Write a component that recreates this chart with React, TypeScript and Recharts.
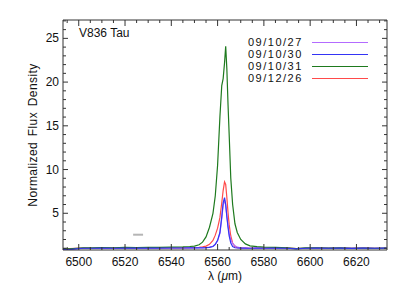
import { Line, LineChart, ReferenceLine, XAxis, YAxis } from 'recharts'

const wavelength = [
  6493, 6496, 6499, 6502, 6506, 6510, 6515, 6520, 6525, 6530,
  6535, 6540, 6545, 6548, 6550, 6552, 6553.5, 6555, 6556.5, 6558,
  6559, 6560, 6561, 6561.8, 6562.4, 6563, 6563.5, 6564, 6564.5, 6565,
  6565.7, 6566.5, 6567.5, 6568.5, 6570, 6572, 6574, 6577, 6580, 6585,
  6590, 6594, 6598, 6603, 6608, 6613, 6618, 6623, 6628, 6633,
]

const flux091027 = [
  0.9, 0.88, 0.95, 1.0, 1.0, 1.02, 1.01, 1.03, 1.0, 1.02,
  1.03, 1.02, 1.03, 1.04, 1.05, 1.06, 1.07, 1.08, 1.12, 1.22,
  1.45, 1.85, 2.7, 4.4, 5.9, 6.5, 5.9, 4.7, 3.6, 2.7,
  2.0, 1.55, 1.28, 1.12, 1.04, 1.02, 1.0, 1.02, 1.0, 1.01,
  1.0, 0.95, 1.0, 1.02, 1.01, 1.01, 0.99, 1.01, 1.0, 1.01,
]

const flux091030 = [
  0.88, 0.85, 0.93, 1.0, 1.0, 1.02, 1.0, 1.03, 1.01, 1.02,
  1.02, 1.03, 1.03, 1.04, 1.04, 1.05, 1.05, 1.07, 1.1, 1.2,
  1.45, 1.9, 2.8, 4.6, 6.2, 6.8, 6.0, 4.6, 3.4, 2.4,
  1.6, 1.2, 1.06, 1.03, 1.02, 1.01, 1.0, 1.02, 1.0, 1.01,
  1.0, 0.94, 1.0, 1.02, 1.0, 1.01, 0.99, 1.01, 1.0, 1.01,
]

const flux091031 = [
  0.95, 0.93, 1.0, 1.04, 1.05, 1.07, 1.06, 1.09, 1.07, 1.1,
  1.11, 1.12, 1.15, 1.2, 1.25, 1.4, 1.7, 2.3, 3.4, 5.0,
  7.0, 10.5, 16.0, 19.6, 20.4, 22.2, 24.1, 21.5, 17.5, 14.0,
  9.0, 6.0, 3.8, 2.8, 2.0, 1.5, 1.28, 1.18, 1.12, 1.1,
  1.05, 0.95, 1.05, 1.06, 1.02, 1.05, 1.0, 1.03, 1.0, 1.02,
]

const flux091226 = [
  0.95, 0.97, 1.0, 1.02, 1.0, 1.03, 1.01, 1.04, 1.02, 1.03,
  1.04, 1.03, 1.05, 1.06, 1.08, 1.1, 1.15, 1.25, 1.45, 1.9,
  2.5, 3.3, 4.5, 6.2, 7.6, 8.6, 8.3, 6.8, 5.1, 3.7,
  2.4, 1.6, 1.2, 1.08, 1.03, 1.02, 1.0, 1.02, 1.01, 1.0,
  1.02, 0.97, 1.0, 1.02, 1.0, 1.01, 0.99, 1.01, 1.0, 1.0,
]

const seriesNames = ['09/10/27', '09/10/30', '09/10/31', '09/12/26']
const seriesKeys = ['d1027', 'd1030', 'd1031', 'd1226']
const seriesColors = ['#b36bff', '#3434f5', '#1e7a1e', '#ff4a4a']

const xMajorTicks = [6500, 6520, 6540, 6560, 6580, 6600, 6620]
const yMajorTicks = [5, 10, 15, 20, 25]

// small grey bar left of the line
const errBarX = [6523.5, 6527.8]
const errBarY = 2.55

const xDomain = [6493.2, 6633.2]
const yDomain = [0.8, 27.1]
const xAllTicks = Array.from({ length: 28 }, (_, i) => 6495 + i * 5)
const yAllTicks = Array.from({ length: 27 }, (_, i) => i + 1)

const data = wavelength.map((w, i) => ({
  w,
  d1027: flux091027[i],
  d1030: flux091030[i],
  d1031: flux091031[i],
  d1226: flux091226[i],
}))

const font = '"Liberation Sans", Arial, sans-serif'
const frame = '#333'

function BottomTick({ x, y, payload }: any) {
  const major = xMajorTicks.includes(payload.value)
  return (
    <g>
      <line x1={x} x2={x} y1={y} y2={y - (major ? 6 : 3)} stroke={frame} />
      {major && (
        <text x={x} y={y + 16} textAnchor="middle" fontSize={12} fill="#111" fontFamily={font}>
          {payload.value}
        </text>
      )}
    </g>
  )
}

function TopTick({ x, y, payload }: any) {
  const major = xMajorTicks.includes(payload.value)
  return <line x1={x} x2={x} y1={y} y2={y + (major ? 6 : 3)} stroke={frame} />
}

function LeftTick({ x, y, payload }: any) {
  const major = yMajorTicks.includes(payload.value)
  return (
    <g>
      <line x1={x} x2={x + (major ? 5 : 3)} y1={y} y2={y} stroke={frame} />
      {major && (
        <text x={x - 4} y={y + 4} textAnchor="end" fontSize={12} fill="#111" fontFamily={font}>
          {payload.value}
        </text>
      )}
    </g>
  )
}

function RightTick({ x, y, payload }: any) {
  const major = yMajorTicks.includes(payload.value)
  return <line x1={x} x2={x - (major ? 5 : 3)} y1={y} y2={y} stroke={frame} />
}

export default function App() {
  const drawOrder = [3, 0, 2, 1]
  return (
    <div style={{ position: 'absolute', left: 0, top: 0, width: 407, height: 291, background: '#fff', fontFamily: font }}>
      <LineChart width={407} height={291} data={data} margin={{ top: 19, right: 19, bottom: 40, left: 62 }}>
        <XAxis xAxisId="bottom" dataKey="w" type="number" domain={xDomain} allowDataOverflow ticks={xAllTicks}
          interval={0} height={1} tickSize={0} tickMargin={0} tickLine={false} axisLine={{ stroke: frame }} tick={BottomTick} />
        <XAxis xAxisId="top" orientation="top" dataKey="w" type="number" domain={xDomain} allowDataOverflow ticks={xAllTicks}
          interval={0} height={1} tickSize={0} tickMargin={0} tickLine={false} axisLine={{ stroke: frame }} tick={TopTick} />
        <YAxis yAxisId="left" type="number" domain={yDomain} allowDataOverflow ticks={yAllTicks}
          interval={0} width={1} tickSize={0} tickMargin={0} tickLine={false} axisLine={{ stroke: frame }} tick={LeftTick} />
        <YAxis yAxisId="right" orientation="right" type="number" domain={yDomain} allowDataOverflow ticks={yAllTicks}
          interval={0} width={1} tickSize={0} tickMargin={0} tickLine={false} axisLine={{ stroke: frame }} tick={RightTick} />
        <ReferenceLine xAxisId="bottom" yAxisId="left"
          segment={[{ x: errBarX[0], y: errBarY }, { x: errBarX[1], y: errBarY }]}
          stroke="#b5b5b5" strokeWidth={2} />
        {drawOrder.map((i) => (
          <Line key={seriesKeys[i]} xAxisId="bottom" yAxisId="left" dataKey={seriesKeys[i]} name={seriesNames[i]}
            type="linear" stroke={seriesColors[i]} strokeWidth={1.2} dot={false} isAnimationActive={false} />
        ))}
      </LineChart>

      <div style={{ position: 'absolute', left: 79, top: 26, fontSize: 12, color: '#111' }}>V836 Tau</div>

      <div style={{ position: 'absolute', left: 248, top: 36 }}>
        {seriesNames.map((name, i) => (
          <div key={name} style={{ display: 'flex', alignItems: 'center', height: 12 }}>
            <span style={{ width: 64, fontSize: 11, letterSpacing: 1.5, lineHeight: '12px', color: '#111' }}>{name}</span>
            <span style={{ width: 56, height: 1, background: seriesColors[i] }} />
          </div>
        ))}
      </div>

      <div style={{ position: 'absolute', left: 33, top: 135, width: 0, height: 0 }}>
        <div style={{ position: 'absolute', transform: 'translate(-50%, -50%) rotate(-90deg)', whiteSpace: 'nowrap',
          fontSize: 12, letterSpacing: 0.4, wordSpacing: 2, color: '#111' }}>
          Normalized Flux Density
        </div>
      </div>

      <div style={{ position: 'absolute', left: 225, top: 269, transform: 'translateX(-50%)', whiteSpace: 'nowrap', fontSize: 12, color: '#111' }}>
        λ (<i>μ</i>m)
      </div>
    </div>
  )
}
